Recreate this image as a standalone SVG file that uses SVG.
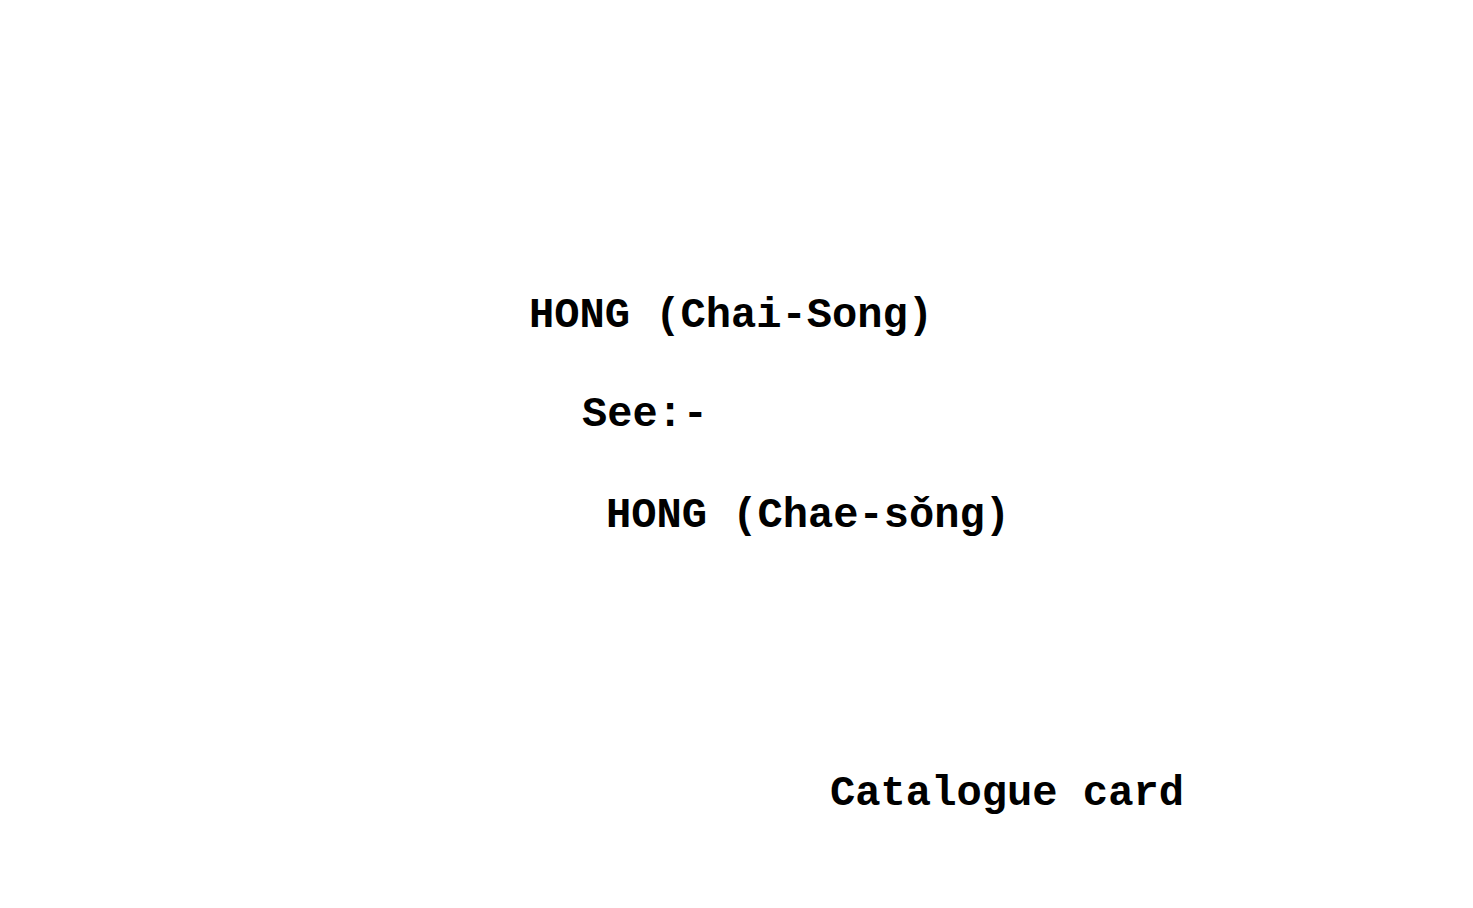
<svg xmlns="http://www.w3.org/2000/svg" width="1473" height="908" viewBox="0 0 1473 908">
<style>
.t{font-family:"Liberation Mono","DejaVu Sans Mono",monospace;font-weight:bold;font-size:41.7px;fill:#000}
</style>
<rect width="1473" height="908" fill="#fff"/>
<g id="card">
<text class="t" x="529" y="327" textLength="404" lengthAdjust="spacingAndGlyphs">HONG (Chai-Song)</text>
<text class="t" x="582" y="426" textLength="126" lengthAdjust="spacingAndGlyphs">See:-</text>
<text class="t" x="606" y="527" textLength="404" lengthAdjust="spacingAndGlyphs">HONG (Chae-sǒng)</text>
<text class="t" x="830" y="805" textLength="354" lengthAdjust="spacingAndGlyphs">Catalogue card</text>
</g>
</svg>
